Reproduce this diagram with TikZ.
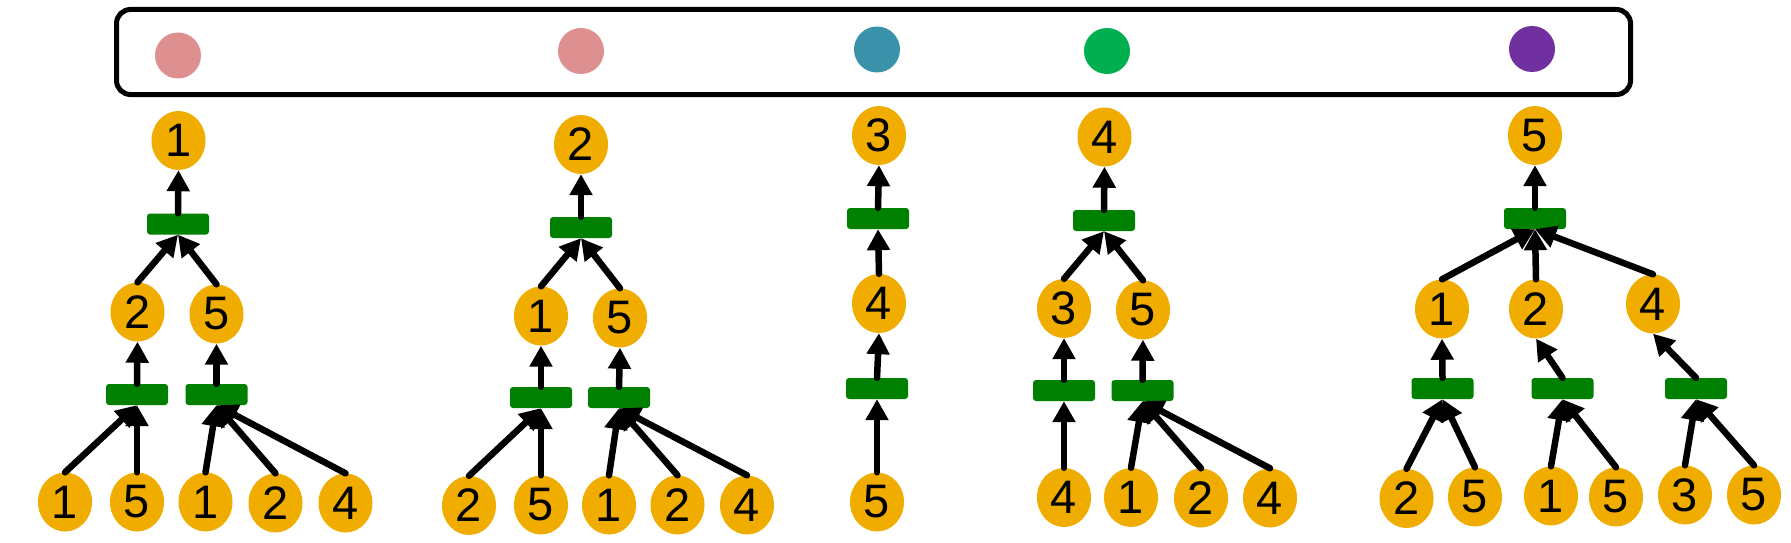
\documentclass[tikz,border=0pt]{standalone}
\usepackage{fontspec}
\setmainfont{Liberation Sans}
\usetikzlibrary{arrows.meta,shapes.geometric}
\definecolor{nodey}{HTML}{F0AD00}
\definecolor{barg}{HTML}{008000}
\definecolor{cpink}{HTML}{DE9090}
\definecolor{cteal}{HTML}{3A93AA}
\definecolor{cgreen}{HTML}{00B050}
\definecolor{cpurple}{HTML}{7030A0}
\tikzset{
  val/.style={ellipse, fill=nodey, minimum width=54pt, minimum height=59pt, inner sep=0pt,
    font=\fontsize{47}{56}\selectfont},
  op/.style={rectangle, fill=barg, rounded corners=3pt, minimum width=62pt, minimum height=21pt, inner sep=0pt},
  dot/.style={circle, minimum size=46pt, inner sep=0pt},
  arr/.style={line width=6.5pt, line cap=round, -{Triangle[length=21pt,width=22pt]}},
  legendbox/.style={draw, line width=5pt, rounded corners=14pt, minimum width=1514pt, minimum height=85pt, inner sep=0pt}
}
\begin{document}
\begin{tikzpicture}[x=1pt,y=-1pt]
\useasboundingbox (0,0) rectangle (1791,543);
% legend
\node[legendbox] (legend) at (873.5,52) {};
\node[dot, fill=cpink] (c1) at (178,55.5) {};
\node[dot, fill=cpink] (c2) at (581,51) {};
\node[dot, fill=cteal] (c3) at (877,49.5) {};
\node[dot, fill=cgreen] (c4) at (1107,51) {};
\node[dot, fill=cpurple] (c5) at (1532,49) {};
% tree 1
\node[val] (r1) at (178.5,140.5) {1};
\node[op] (b1) at (178,224) {};
\node[val] (n1a) at (137.5,312) {2};
\node[val] (n1b) at (216.5,314) {5};
\node[op] (b1a) at (137,394.5) {};
\node[op] (b1b) at (216.5,394.5) {};
\node[val] (l11) at (65,502) {1};
\node[val] (l12) at (137,502) {5};
\node[val] (l13) at (205.5,502) {1};
\node[val] (l14) at (275.5,503) {2};
\node[val] (l15) at (345.5,503) {4};
\draw[arr] (b1.north) -- (r1.south);
\draw[arr] (n1a.north) -- (b1.south);
\draw[arr] (n1b.north) -- (b1.south);
\draw[arr] (b1a.north) -- (n1a.south);
\draw[arr] (b1b.north) -- (n1b.south);
\draw[arr] (l11.north) -- (b1a.south);
\draw[arr] (l12.north) -- (b1a.south);
\draw[arr] (l13.north) -- (b1b.south);
\draw[arr] (l14.north) -- (b1b.south);
\draw[arr] (l15.north) -- (b1b.south);
% tree 2
\node[val] (r2) at (581,144.5) {2};
\node[op] (b2) at (581,227.5) {};
\node[val] (n2a) at (541,316) {1};
\node[val] (n2b) at (620,318) {5};
\node[op] (b2a) at (541,397.5) {};
\node[op] (b2b) at (619,397.5) {};
\node[val] (l21) at (469,505.5) {2};
\node[val] (l22) at (541,505) {5};
\node[val] (l23) at (609,505) {1};
\node[val] (l24) at (677.5,505) {2};
\node[val] (l25) at (747,505) {4};
\draw[arr] (b2.north) -- (r2.south);
\draw[arr] (n2a.north) -- (b2.south);
\draw[arr] (n2b.north) -- (b2.south);
\draw[arr] (b2a.north) -- (n2a.south);
\draw[arr] (b2b.north) -- (n2b.south);
\draw[arr] (l21.north) -- (b2a.south);
\draw[arr] (l22.north) -- (b2a.south);
\draw[arr] (l23.north) -- (b2b.south);
\draw[arr] (l24.north) -- (b2b.south);
\draw[arr] (l25.north) -- (b2b.south);
% tree 3
\node[val] (r3) at (879,135.5) {3};
\node[op] (b3) at (878,218.5) {};
\node[val] (n3) at (879,303.5) {4};
\node[op] (b3a) at (877,388.5) {};
\node[val] (l31) at (877,502) {5};
\draw[arr] (b3.north) -- (r3.south);
\draw[arr] (n3.north) -- (b3.south);
\draw[arr] (b3a.north) -- (n3.south);
\draw[arr] (l31.north) -- (b3a.south);
% tree 4
\node[val] (r4) at (1104.5,137) {4};
\node[op] (b4) at (1104,220.5) {};
\node[val] (n4a) at (1064,308.5) {3};
\node[val] (n4b) at (1143,310) {5};
\node[op] (b4a) at (1064,390.5) {};
\node[op] (b4b) at (1142.5,390.5) {};
\node[val] (l41) at (1064,497.5) {4};
\node[val] (l42) at (1131,497.5) {1};
\node[val] (l43) at (1201,498) {2};
\node[val] (l44) at (1270,498) {4};
\draw[arr] (b4.north) -- (r4.south);
\draw[arr] (n4a.north) -- (b4.south);
\draw[arr] (n4b.north) -- (b4.south);
\draw[arr] (b4a.north) -- (n4a.south);
\draw[arr] (b4b.north) -- (n4b.south);
\draw[arr] (l41.north) -- (b4a.south);
\draw[arr] (l42.north) -- (b4b.south);
\draw[arr] (l43.north) -- (b4b.south);
\draw[arr] (l44.north) -- (b4b.south);
% tree 5
\node[val] (r5) at (1535,135.5) {5};
\node[op] (b5) at (1535,218.5) {};
\node[val] (n5a) at (1442,309) {1};
\node[val] (n5b) at (1536,309) {2};
\node[val] (n5c) at (1653,304) {4};
\node[op] (b5a) at (1442.5,388.5) {};
\node[op] (b5b) at (1562.5,388.5) {};
\node[op] (b5c) at (1696,388.5) {};
\node[val] (l51) at (1406.5,498.5) {2};
\node[val] (l52) at (1475,497) {5};
\node[val] (l53) at (1551,496) {1};
\node[val] (l54) at (1616,497) {5};
\node[val] (l55) at (1685,495) {3};
\node[val] (l56) at (1754,495) {5};
\draw[arr] (b5.north) -- (r5.south);
\draw[arr] (n5a.north) -- (b5.south);
\draw[arr] (n5b.north) -- (b5.south);
\draw[arr] (n5c.north) -- (b5.south);
\draw[arr] (b5a.north) -- (n5a.south);
\draw[arr] (b5b.north) -- (n5b.south);
\draw[arr] (b5c.north) -- (n5c.south);
\draw[arr] (l51.north) -- (b5a.south);
\draw[arr] (l52.north) -- (b5a.south);
\draw[arr] (l53.north) -- (b5b.south);
\draw[arr] (l54.north) -- (b5b.south);
\draw[arr] (l55.north) -- (b5c.south);
\draw[arr] (l56.north) -- (b5c.south);
\end{tikzpicture}
\end{document}
